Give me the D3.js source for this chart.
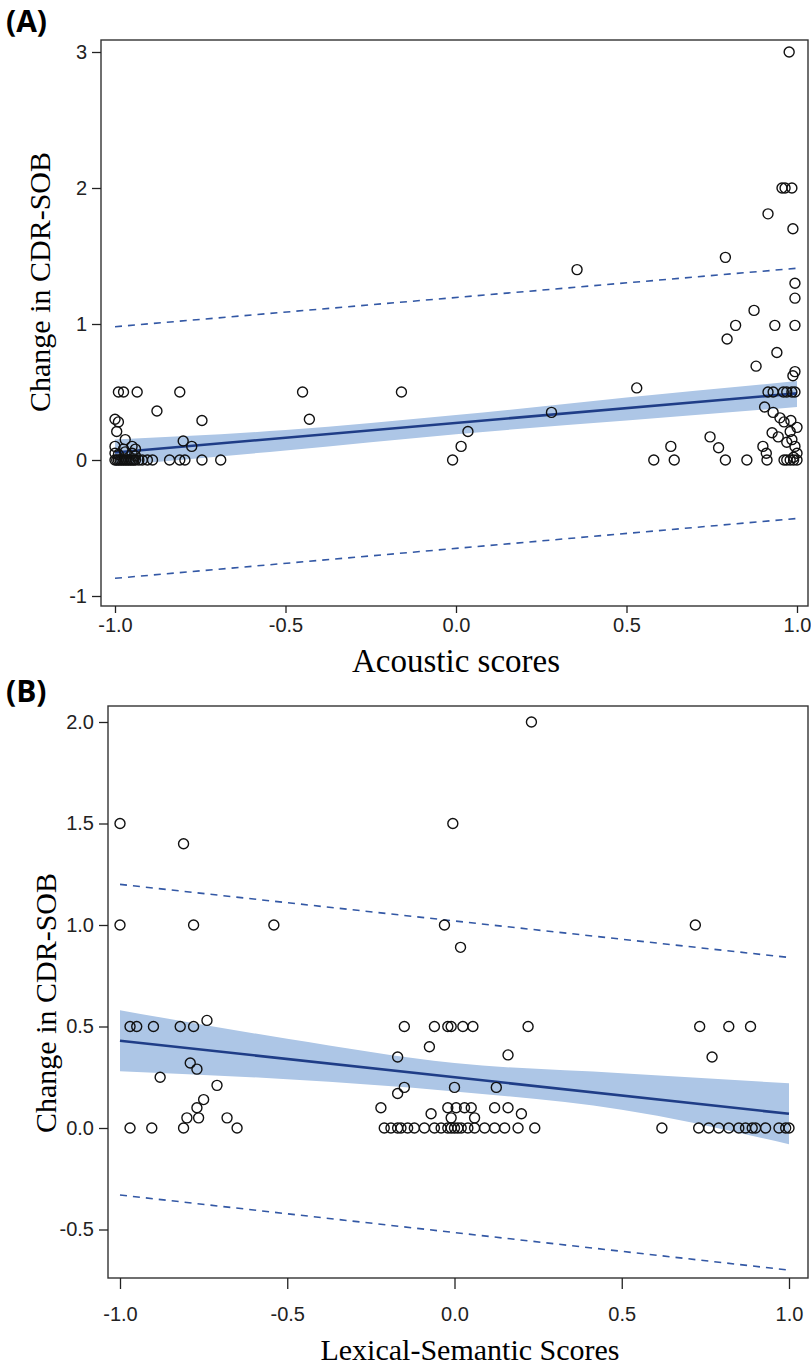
<!DOCTYPE html>
<html>
<head>
<meta charset="UTF-8">
<script src="https://cdn.jsdelivr.net/npm/d3@7"></script>
<style>
  body { margin: 0; background: #fff; }
  .tick text { font-family: "Liberation Sans Narrow", "Liberation Sans", Arial, sans-serif; font-size: 20px; fill: #222; }
  .tick line, .domain { stroke: #222; stroke-width: 1.3px; }
</style>
</head>
<body>
<script>
// panel A: acoustic scores vs change in CDR-SOB
var acousticX = [-1.0,-0.995,-0.99,-0.985,-0.98,-0.975,-0.97,-0.965,-0.96,-0.955,-0.95,-0.945,-0.94,-0.93,-0.92,-0.905,-0.89,
  -0.84,-0.81,-0.795,-0.745,-0.69,
  -1.0,-0.99,-0.97,-0.95,-0.94,
  -1.0,-0.975,-0.95,-0.94,-0.775,
  -0.995,-0.97,-0.80,
  -1.0,-0.99,-0.745,-0.877,
  -0.99,-0.975,-0.935,-0.81,
  -0.45,-0.43,-0.16,-0.01,0.015,0.035,0.28,0.355,0.53,0.58,0.63,0.64,
  0.977,0.956,0.965,0.985,0.915,0.988,0.79,0.994,0.994,0.874,0.82,0.935,0.994,0.795,0.941,0.88,0.994,0.988,
  0.915,0.93,0.96,0.97,0.985,0.994,
  0.905,0.93,0.95,0.962,0.982,1.0,0.98,0.927,0.945,0.745,0.985,0.97,0.77,0.9,0.91,0.994,1.0,0.99,
  0.79,0.853,0.912,0.962,0.97,0.98,0.99,1.0];
var acousticY = [0,0,0,0,0,0,0,0,0,0,0,0,0,0,0,0,0,
  0,0,0,0,0,
  0.05,0.04,0.06,0.05,0.03,
  0.1,0.08,0.1,0.08,0.1,
  0.21,0.15,0.14,
  0.3,0.28,0.29,0.36,
  0.5,0.5,0.5,0.5,
  0.5,0.3,0.5,0,0.1,0.21,0.35,1.4,0.53,0,0.1,0,
  3.0,2.0,2.0,2.0,1.81,1.7,1.49,1.3,1.19,1.1,0.99,0.99,0.99,0.89,0.79,0.69,0.65,0.62,
  0.5,0.5,0.5,0.5,0.5,0.5,
  0.39,0.35,0.31,0.28,0.29,0.24,0.21,0.2,0.17,0.17,0.15,0.13,0.09,0.1,0.05,0.1,0.05,0.02,
  0,0,0,0,0,0,0,0];
var fitAX = [-1, 1], fitAY = [0.055, 0.49];
var bandAX = [-1, -0.5, 0, 0.5, 1];
var bandALo = [-0.04, 0.07, 0.19, 0.29, 0.39];
var bandAHi = [0.15, 0.22, 0.33, 0.46, 0.58];
var predAX = [-1, 1], predAHi = [0.98, 1.41], predALo = [-0.87, -0.43];
var ticksAX = [-1.0, -0.5, 0.0, 0.5, 1.0], ticksAY = [-1, 0, 1, 2, 3];

// panel B: lexical-semantic scores
var lexX = [-1.0,-1.0,-0.81,-0.78,-0.54,
  -0.97,-0.95,-0.90,-0.82,-0.78,-0.74,
  -0.79,-0.77,-0.88,-0.71,-0.75,-0.77,-0.80,-0.765,-0.68,
  -0.97,-0.905,-0.81,-0.65,
  -0.005,0.23,-0.03,0.018,
  -0.15,-0.06,-0.02,-0.01,0.025,0.055,0.22,
  -0.075,-0.17,0.16,-0.15,0.0,0.125,
  -0.22,-0.02,0.005,0.03,0.05,0.12,0.16,0.2,
  -0.07,-0.01,0.06,-0.17,
  -0.21,-0.19,-0.17,-0.16,-0.14,-0.12,-0.09,-0.06,-0.04,-0.02,-0.01,0.0,0.01,0.02,0.04,0.06,0.09,0.12,0.15,0.19,0.24,
  0.62,0.72,0.733,0.82,0.885,0.77,
  0.73,0.76,0.79,0.82,0.85,0.87,0.89,0.9,0.93,0.97,0.99,1.0];
var lexY = [1.5,1.0,1.4,1.0,1.0,
  0.5,0.5,0.5,0.5,0.5,0.53,
  0.32,0.29,0.25,0.21,0.14,0.1,0.05,0.05,0.05,
  0,0,0,0,
  1.5,2.0,1.0,0.89,
  0.5,0.5,0.5,0.5,0.5,0.5,0.5,
  0.4,0.35,0.36,0.2,0.2,0.2,
  0.1,0.1,0.1,0.1,0.1,0.1,0.1,0.07,
  0.07,0.05,0.05,0.17,
  0,0,0,0,0,0,0,0,0,0,0,0,0,0,0,0,0,0,0,0,0,
  0,1.0,0.5,0.5,0.5,0.35,
  0,0,0,0,0,0,0,0,0,0,0,0];
var fitBX = [-1, 1], fitBY = [0.43, 0.07];
var bandBX = [-1, -0.5, 0, 0.5, 1];
var bandBLo = [0.28, 0.24, 0.18, 0.09, -0.08];
var bandBHi = [0.58, 0.44, 0.32, 0.27, 0.22];
var predBX = [-1, 1], predBHi = [1.2, 0.84], predBLo = [-0.33, -0.7];
var ticksBX = [-1.0, -0.5, 0.0, 0.5, 1.0], ticksBY = [-0.5, 0.0, 0.5, 1.0, 1.5, 2.0];

var svg = d3.select("body").append("svg")
  .attr("width", 811).attr("height", 1369);

function hyphen(f) {
  return function(d) { return f(d).replace("\u2212", "-"); };
}

function panel(cfg) {
  var g = svg.append("g");
  var x = d3.scaleLinear().domain([-1, 1]).range(cfg.xr);
  var y = d3.scaleLinear().domain(cfg.yd).range(cfg.yr);

  // confidence band
  var area = d3.area()
    .x(function(d, i) { return x(cfg.bandX[i]); })
    .y0(function(d, i) { return y(cfg.bandLo[i]); })
    .y1(function(d, i) { return y(cfg.bandHi[i]); })
    .curve(d3.curveMonotoneX);
  g.append("path").datum(cfg.bandX)
    .attr("d", area).attr("fill", "#adc6e6");

  var line = d3.line().x(function(d) { return x(d[0]); }).y(function(d) { return y(d[1]); });
  g.append("path").datum(d3.zip(cfg.fitX, cfg.fitY))
    .attr("d", line).attr("fill", "none").attr("stroke", "#1f3d87").attr("stroke-width", 2.6);
  [cfg.predHi, cfg.predLo].forEach(function(p) {
    g.append("path").datum(d3.zip(cfg.predX, p))
      .attr("d", line).attr("fill", "none").attr("stroke", "#3358a5")
      .attr("stroke-width", 1.6).attr("stroke-dasharray", "7,6");
  });

  g.selectAll("circle.pt").data(d3.zip(cfg.px, cfg.py)).enter()
    .append("circle").attr("class", "pt")
    .attr("cx", function(d) { return x(d[0]); })
    .attr("cy", function(d) { return y(d[1]); })
    .attr("r", 5)
    .attr("fill", "none").attr("stroke", "#111").attr("stroke-width", 1.4);

  // box
  g.append("rect")
    .attr("x", cfg.box[0]).attr("y", cfg.box[1])
    .attr("width", cfg.box[2] - cfg.box[0]).attr("height", cfg.box[3] - cfg.box[1])
    .attr("fill", "none").attr("stroke", "#333").attr("stroke-width", 1.4);

  g.append("g").attr("transform", "translate(" + cfg.box[0] + ",0)")
    .call(d3.axisLeft(y).tickValues(cfg.ty).tickSize(9).tickPadding(5).tickFormat(hyphen(cfg.fy)))
    .call(function(s) { s.select(".domain").remove(); });
  g.append("g").attr("transform", "translate(0," + cfg.box[3] + ")")
    .call(d3.axisBottom(x).tickValues(cfg.tx).tickSize(cfg.xtick).tickPadding(cfg.xpad).tickFormat(hyphen(d3.format(".1f"))))
    .call(function(s) { s.select(".domain").remove(); });

  g.append("text").text(cfg.xlab)
    .attr("x", cfg.xlabPos[0]).attr("y", cfg.xlabPos[1])
    .attr("text-anchor", "middle")
    .style("font-family", "'Liberation Serif', 'Times New Roman', serif").style("font-size", cfg.xlabSize);
  g.append("text").text("Change in CDR-SOB")
    .attr("transform", "translate(" + cfg.ylabPos[0] + "," + cfg.ylabPos[1] + ") rotate(-90)")
    .attr("text-anchor", "middle")
    .style("font-family", "'Liberation Serif', 'Times New Roman', serif").style("font-size", "30px");
  g.append("text").text(cfg.tag)
    .attr("x", 6).attr("y", cfg.tagY)
    .style("font-family", "'Open Sans', sans-serif").style("font-weight", "bold").style("font-size", "30px");
}

panel({
  xr: [115, 797], yd: [-1, 3], yr: [596, 52], box: [101, 40, 808, 606],
  bandX: bandAX, bandLo: bandALo, bandHi: bandAHi,
  fitX: fitAX, fitY: fitAY, predX: predAX, predHi: predAHi, predLo: predALo,
  px: acousticX, py: acousticY, tx: ticksAX, ty: ticksAY, fy: d3.format("d"), xtick: 7, xpad: 5,
  xlab: "Acoustic scores", xlabPos: [456, 672], xlabSize: "33px", ylabPos: [50, 282], tag: "(A)", tagY: 32
});
panel({
  xr: [120, 789], yd: [-0.5, 2], yr: [1229.5, 722], box: [108, 706, 808, 1278],
  bandX: bandBX, bandLo: bandBLo, bandHi: bandBHi,
  fitX: fitBX, fitY: fitBY, predX: predBX, predHi: predBHi, predLo: predBLo,
  px: lexX, py: lexY, tx: ticksBX, ty: ticksBY, fy: d3.format(".1f"), xtick: 11, xpad: 18,
  xlab: "Lexical-Semantic Scores", xlabPos: [470, 1360], xlabSize: "30px", ylabPos: [56, 1003], tag: "(B)", tagY: 702
});
</script>
</body>
</html>
